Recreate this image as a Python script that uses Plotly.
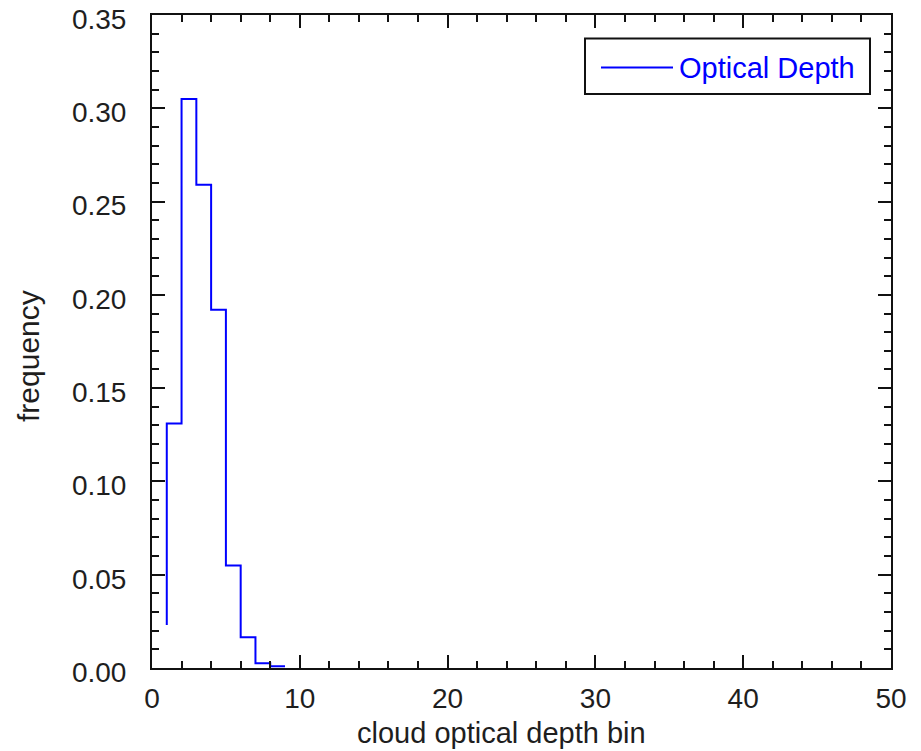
import plotly.graph_objects as go

# ---- data ----
bin_edges = [1, 2, 3, 4, 5, 6, 7, 8, 9]          # bin edges; last is the end edge
start_value = 0.023                               # value where the step line starts at x=1
bin_freq = [0.131, 0.305, 0.259, 0.192, 0.055, 0.0165, 0.0025, 0.001]
series_name = "Optical Depth"
x_ticks = [0, 10, 20, 30, 40, 50]
y_ticks = [0.00, 0.05, 0.10, 0.15, 0.20, 0.25, 0.30, 0.35]
x_title = "cloud optical depth bin"
y_title = "frequency"

# step line (hv): start point, then each bin value held across its bin
xs = [bin_edges[0]] + bin_edges
ys = [start_value] + bin_freq + [bin_freq[-1]]

FONT = "Liberation Sans, Arial, Helvetica, sans-serif"
TXT = "#1e1e1e"
AX = "#111111"
W, H = 921, 751
ML, MR, MT, MB = 152, 30, 15, 83
PW, PH = W - ML - MR, H - MT - MB

def px(x):
    return (x - ML) / PW

def py(y):
    return (H - MB - y) / PH

fig = go.Figure()
fig.add_trace(go.Scatter(
    x=xs, y=ys, mode="lines", line_shape="hv",
    line=dict(color="#0000ff", width=2), name=series_name, showlegend=False,
))

axis_common = dict(
    showgrid=False, zeroline=False, showline=True, linecolor=AX, linewidth=2,
    mirror="ticks", ticks="inside", tickwidth=2, tickcolor=AX, ticklen=13,
    tickfont=dict(family=FONT, size=28, color=TXT), automargin=False,
    ticklabeloverflow="allow",
)

fig.update_xaxes(
    range=[0, 50], tickvals=x_ticks, ticktext=[str(v) for v in x_ticks],
    minor=dict(dtick=2, ticks="inside", ticklen=7, tickwidth=2, tickcolor=AX),
    ticklabelstandoff=4,
    **axis_common,
)
fig.update_yaxes(
    range=[0, 0.35 + 1e-9], tickvals=y_ticks, ticktext=[f"{v:.2f}" for v in y_ticks],
    minor=dict(dtick=0.01, ticks="inside", ticklen=7, tickwidth=2, tickcolor=AX),
    ticklabelstandoff=18, ticklabelshift=4,
    **axis_common,
)

# axis titles
fig.add_annotation(xref="paper", yref="paper", x=px(501), y=py(733),
                   xanchor="center", yanchor="middle", showarrow=False,
                   text=x_title, font=dict(family=FONT, size=29, color=TXT))
fig.add_annotation(xref="paper", yref="paper", x=px(28), y=py(356),
                   xanchor="center", yanchor="middle", showarrow=False, textangle=-90,
                   text=y_title, font=dict(family=FONT, size=30, color=TXT))

# legend box (drawn manually to match the long line sample)
fig.add_shape(type="rect", xref="paper", yref="paper",
              x0=px(585), x1=px(870), y0=py(94), y1=py(38.5),
              line=dict(color=AX, width=2), fillcolor="white", layer="above")
fig.add_shape(type="line", xref="paper", yref="paper",
              x0=px(601), x1=px(673), y0=py(67.5), y1=py(67.5),
              line=dict(color="#0000ff", width=2), layer="above")
fig.add_annotation(xref="paper", yref="paper", x=px(677), y=py(68),
                   xanchor="left", yanchor="middle", showarrow=False,
                   text=series_name, font=dict(family=FONT, size=29, color="#0000ff"))

fig.update_layout(
    width=W, height=H, margin=dict(l=ML, r=MR, t=MT, b=MB, autoexpand=False),
    paper_bgcolor="white", plot_bgcolor="white", showlegend=False,
    font=dict(family=FONT, color=TXT),
)

fig.write_html("out.html")
